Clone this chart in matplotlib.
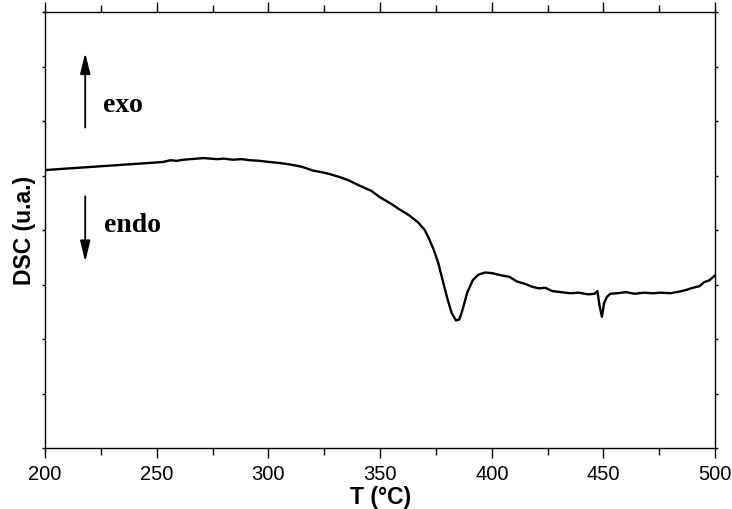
import matplotlib
matplotlib.use('Agg')
import matplotlib.pyplot as plt
from matplotlib.ticker import MultipleLocator, NullFormatter

# DSC trace (arbitrary units, axis 0..8)
temp = [200, 250, 253, 256, 259, 262, 265, 268, 271, 274, 277, 280, 284, 288,
        292, 296, 300, 305, 310, 315, 320, 324, 328, 332, 336, 341, 346, 350,
        355, 359, 363, 367, 370, 372, 374, 376, 378, 380, 382, 384, 385.5,
        387, 389, 391.5, 394, 397, 400, 404, 408, 411, 415, 418, 421, 424,
        427, 431, 435, 439, 443, 446, 447.3, 448.2, 449.3, 450.3, 451.5, 453,
        456, 460, 464, 468, 472, 476, 480, 484, 487, 490, 493, 495, 497.5, 500]
dsc = [5.10, 5.24, 5.25, 5.28, 5.27, 5.29, 5.30, 5.31, 5.32, 5.31, 5.30,
       5.31, 5.29, 5.30, 5.28, 5.27, 5.25, 5.23, 5.20, 5.16, 5.09, 5.06,
       5.02, 4.97, 4.91, 4.81, 4.72, 4.60, 4.48, 4.37, 4.27, 4.14, 4.00,
       3.83, 3.64, 3.40, 3.08, 2.76, 2.48, 2.34, 2.36, 2.55, 2.85, 3.08,
       3.18, 3.22, 3.21, 3.17, 3.14, 3.06, 3.01, 2.96, 2.93, 2.94, 2.88,
       2.86, 2.84, 2.85, 2.82, 2.83, 2.88, 2.62, 2.41, 2.66, 2.77, 2.83,
       2.84, 2.86, 2.83, 2.85, 2.84, 2.85, 2.84, 2.87, 2.90, 2.94, 2.97,
       3.04, 3.08, 3.17]

xticks = [200, 250, 300, 350, 400, 450, 500]

sans = ['Liberation Sans', 'DejaVu Sans']
serif = ['Liberation Serif', 'DejaVu Serif']

fig = plt.figure(figsize=(7.32, 5.09), dpi=100)
ax = fig.add_axes([0.0615, 0.1198, 0.9155, 0.8566])

ax.plot(temp, dsc, color='black', lw=1.7)

ax.set_xlim(200, 500)
ax.set_ylim(0, 8)
ax.set_xticks(xticks)
ax.xaxis.set_minor_locator(MultipleLocator(25))
ax.yaxis.set_major_locator(MultipleLocator(1))
ax.yaxis.set_major_formatter(NullFormatter())

ax.tick_params(axis='x', which='major', direction='out', length=7, width=1,
               labelsize=14.5, pad=5, top=True)
ax.tick_params(axis='x', which='minor', direction='out', length=5, width=1,
               top=True)
ax.tick_params(axis='y', which='major', direction='out', length=2, width=1,
               right=True)
for lab in ax.get_xticklabels():
    lab.set_family(sans)
for sp in ax.spines.values():
    sp.set_linewidth(1.0)

ax.set_xlabel('T (°C)', family=sans, fontsize=16.5, fontweight='bold',
              labelpad=2)
ax.set_ylabel('DSC (u.a.)', family=sans, fontsize=16.5, fontweight='bold',
              labelpad=1)

# exo / endo arrows
arrow = dict(arrowstyle='-|>,head_length=0.9,head_width=0.22', color='black',
             lw=1.3, mutation_scale=14, shrinkA=0, shrinkB=0)
ax.annotate('', xy=(218, 7.25), xytext=(218, 5.88), arrowprops=arrow)
ax.annotate('', xy=(218, 3.42), xytext=(218, 4.62), arrowprops=arrow)
ax.text(226, 6.28, 'exo', family=serif, fontsize=20, fontweight='bold',
        va='center', ha='left')
ax.text(226.5, 4.09, 'endo', family=serif, fontsize=20, fontweight='bold',
        va='center', ha='left')

fig.savefig('out.png', dpi=100)
